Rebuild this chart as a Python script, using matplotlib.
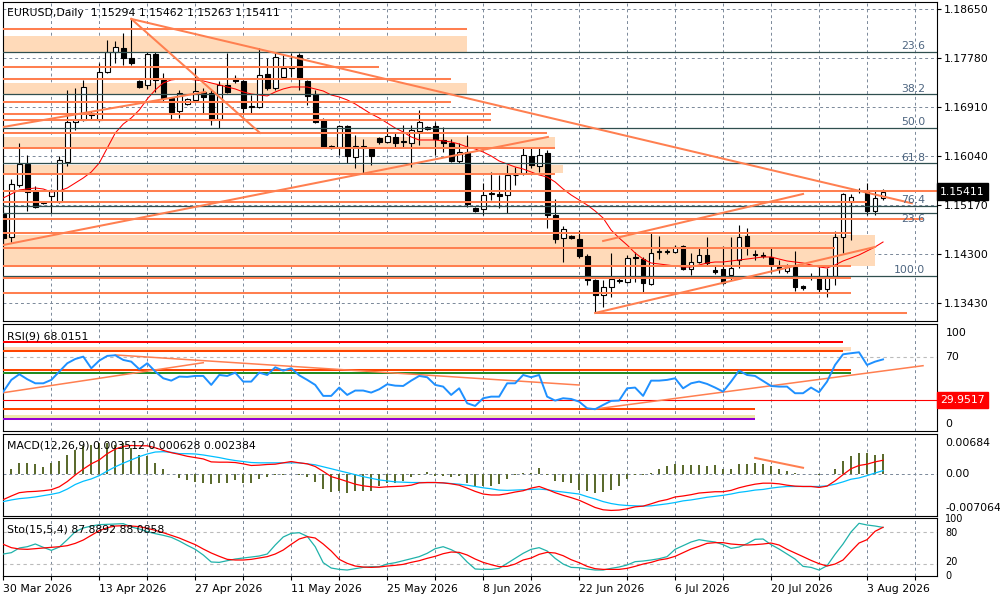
import numpy as np
import matplotlib
matplotlib.use('Agg')
import matplotlib.pyplot as plt
from matplotlib.transforms import blended_transform_factory

plt.rcParams['font.family'] = ['DejaVu Sans']
FS = 7.8

# ---- daily candles ----
opens = [
    1.15015, 1.14607, 1.15530, 1.15903, 1.15442, 1.15211, 1.15335, 1.15228, 1.15939, 1.16649,
    1.16685, 1.16809, 1.16685, 1.17537, 1.17892, 1.17963, 1.17785, 1.17377, 1.17306, 1.17856,
    1.17395, 1.17075, 1.16844, 1.16969, 1.17040, 1.17182, 1.17164, 1.16702, 1.17306, 1.17430,
    1.17377, 1.16915, 1.16915, 1.17501, 1.17253, 1.17448, 1.17608, 1.17838, 1.17377, 1.17146,
    1.16685, 1.16187, 1.16205, 1.16578, 1.16027, 1.16223, 1.16170, 1.16365, 1.16294, 1.16383,
    1.16294, 1.16276, 1.16489, 1.16525, 1.16578, 1.16329, 1.16276, 1.15956, 1.16116, 1.15122,
    1.15104, 1.15371, 1.15371, 1.15353, 1.15708, 1.15743, 1.16045, 1.15868, 1.16098, 1.14998,
    1.14589, 1.14625, 1.14571, 1.14270, 1.13844, 1.13577, 1.13719, 1.13826, 1.13808, 1.14234,
    1.14216, 1.13773, 1.14341, 1.14341, 1.14341, 1.14447, 1.14039, 1.14163, 1.14288, 1.14021,
    1.14039, 1.13932, 1.14199, 1.14625, 1.14305, 1.14288, 1.14252, 1.14074, 1.14003, 1.14074,
    1.13737, 1.13897, 1.13897, 1.13684, 1.13915, 1.14607, 1.15228, 1.15424, 1.15406, 1.15069,
    1.15294]
highs = [
    1.15086, 1.15637, 1.16276, 1.16063, 1.15513, 1.15246, 1.15459, 1.16045, 1.17217, 1.17253,
    1.17395, 1.16844, 1.17696, 1.18105, 1.18087, 1.18229, 1.18495, 1.17395, 1.17892, 1.17892,
    1.17519, 1.17093, 1.17217, 1.17075, 1.17608, 1.17253, 1.17217, 1.17377, 1.17874, 1.17483,
    1.17395, 1.17128, 1.17963, 1.17785, 1.17892, 1.17838, 1.17874, 1.17874, 1.17395, 1.17217,
    1.16720, 1.16241, 1.16596, 1.16596, 1.16418, 1.16347, 1.16187, 1.16383, 1.16542, 1.16454,
    1.16596, 1.16596, 1.16862, 1.16578, 1.16649, 1.16560, 1.16347, 1.16276, 1.16418, 1.15140,
    1.15566, 1.15761, 1.15708, 1.15885, 1.15850, 1.16205, 1.16205, 1.16205, 1.16152, 1.15282,
    1.14802, 1.14643, 1.14731, 1.14305, 1.13861, 1.13844, 1.14323, 1.13879, 1.14288, 1.14341,
    1.14252, 1.14678, 1.14625, 1.14394, 1.14465, 1.14465, 1.14323, 1.14412, 1.14607, 1.14092,
    1.14447, 1.14607, 1.14820, 1.14767, 1.14376, 1.14341, 1.14430, 1.14199, 1.14128, 1.14359,
    1.13755, 1.13968, 1.14074, 1.14057, 1.14714, 1.15389, 1.15371, 1.15477, 1.15566, 1.15442,
    1.15462]
lows = [
    1.14465, 1.14518, 1.15495, 1.15069, 1.15122, 1.15193, 1.15033, 1.15211, 1.15868, 1.16507,
    1.16667, 1.16685, 1.16667, 1.17519, 1.17696, 1.17661, 1.17661, 1.17253, 1.17235, 1.17182,
    1.17004, 1.16685, 1.16720, 1.16951, 1.17004, 1.16809, 1.16596, 1.16542, 1.17164, 1.17341,
    1.16809, 1.16809, 1.16897, 1.17217, 1.17217, 1.17430, 1.17448, 1.17217, 1.16951, 1.16631,
    1.16187, 1.16170, 1.16063, 1.15921, 1.15832, 1.15743, 1.15885, 1.16258, 1.16276, 1.16205,
    1.16205, 1.15850, 1.16241, 1.16507, 1.16063, 1.16116, 1.15939, 1.15921, 1.15140, 1.15051,
    1.14998, 1.15264, 1.15122, 1.15033, 1.15530, 1.15708, 1.15832, 1.15761, 1.14767, 1.14500,
    1.14163, 1.14571, 1.14234, 1.13755, 1.13258, 1.13364, 1.13542, 1.13790, 1.13790, 1.13808,
    1.13631, 1.13755, 1.14216, 1.14305, 1.14323, 1.14021, 1.13932, 1.14145, 1.14110, 1.13950,
    1.13773, 1.13844, 1.14057, 1.14288, 1.14199, 1.14234, 1.13968, 1.13968, 1.13968, 1.13648,
    1.13666, 1.13844, 1.13631, 1.13542, 1.13755, 1.14323, 1.14554, 1.15390, 1.14998, 1.14998,
    1.15263]
closes = [
    1.14589, 1.15548, 1.15903, 1.15406, 1.15140, 1.15228, 1.15442, 1.15974, 1.16649, 1.16685,
    1.17270, 1.16773, 1.17537, 1.17892, 1.17981, 1.17785, 1.17696, 1.17270, 1.17856, 1.17395,
    1.17075, 1.16826, 1.17164, 1.17058, 1.17199, 1.17093, 1.16685, 1.17306, 1.17182, 1.17377,
    1.16897, 1.16933, 1.17483, 1.17253, 1.17803, 1.17608, 1.17625, 1.17412, 1.17111, 1.16649,
    1.16205, 1.16223, 1.16578, 1.16045, 1.16223, 1.16187, 1.16045, 1.16294, 1.16400, 1.16276,
    1.16312, 1.16507, 1.16649, 1.16560, 1.16347, 1.16276, 1.15956, 1.16116, 1.15193, 1.15069,
    1.15353, 1.15389, 1.15335, 1.15708, 1.15715, 1.16063, 1.15885, 1.16063, 1.14998, 1.14571,
    1.14749, 1.14589, 1.14270, 1.13844, 1.13577, 1.13719, 1.13861, 1.13844, 1.14234, 1.14252,
    1.13790, 1.14323, 1.14359, 1.14359, 1.14430, 1.14039, 1.14163, 1.14288, 1.14145, 1.13986,
    1.13790, 1.14057, 1.14607, 1.14447, 1.14288, 1.14270, 1.14128, 1.14039, 1.14074, 1.13719,
    1.13702, 1.13890, 1.13684, 1.13915, 1.14607, 1.15371, 1.15317, 1.15430, 1.15069, 1.15299,
    1.15411]

ma_values = [
    1.15300, 1.15371, 1.15442, 1.15459, 1.15477, 1.15459, 1.15406, 1.15424, 1.15477, 1.15566,
    1.15655, 1.15761, 1.15921, 1.16187, 1.16454, 1.16613, 1.16720, 1.16862, 1.17058, 1.17217,
    1.17341, 1.17395, 1.17412, 1.17412, 1.17395, 1.17377, 1.17341, 1.17306, 1.17270, 1.17235,
    1.17182, 1.17146, 1.17128, 1.17111, 1.17182, 1.17235, 1.17270, 1.17270, 1.17270, 1.17235,
    1.17199, 1.17128, 1.17093, 1.17040, 1.16969, 1.16880, 1.16791, 1.16720, 1.16631, 1.16542,
    1.16471, 1.16383, 1.16329, 1.16329, 1.16329, 1.16312, 1.16294, 1.16258, 1.16205, 1.16170,
    1.16116, 1.16045, 1.15956, 1.15903, 1.15850, 1.15814, 1.15761, 1.15708, 1.15672, 1.15584,
    1.15459, 1.15353, 1.15264, 1.15175, 1.15069, 1.14944, 1.14731, 1.14589, 1.14465, 1.14323,
    1.14216, 1.14145, 1.14128, 1.14110, 1.14092, 1.14074, 1.14074, 1.14110, 1.14145, 1.14163,
    1.14163, 1.14181, 1.14199, 1.14216, 1.14234, 1.14252, 1.14252, 1.14216, 1.14181, 1.14163,
    1.14145, 1.14110, 1.14074, 1.14057, 1.14110, 1.14181, 1.14234, 1.14288, 1.14359, 1.14430,
    1.14518]

rsi_values = [
    37.8, 48.8, 54.1, 49.4, 45.6, 45.6, 48.8, 56.6, 64.4, 68.4,
    70.6, 59.7, 66.9, 71.3, 71.9, 67.5, 65.9, 58.8, 64.4, 56.6,
    50.3, 48.1, 51.9, 51.6, 52.5, 52.5, 44.1, 53.4, 52.5, 55.6,
    47.2, 47.2, 55.6, 53.4, 60.6, 57.5, 59.7, 53.1, 48.8, 44.1,
    33.8, 33.8, 41.6, 34.7, 38.8, 38.8, 36.9, 40.0, 44.7, 43.4,
    43.1, 48.1, 52.5, 51.3, 44.1, 42.5, 34.7, 40.9, 26.9, 24.4,
    31.6, 33.1, 33.1, 45.6, 45.6, 53.4, 51.3, 53.4, 33.1, 29.4,
    31.6, 30.9, 28.4, 22.2, 21.3, 25.3, 29.1, 29.4, 40.9, 41.6,
    33.8, 48.1, 48.1, 48.8, 50.3, 40.9, 45.6, 47.2, 45.0, 41.6,
    37.8, 47.2, 57.5, 53.4, 52.5, 47.8, 43.1, 42.5, 42.5, 36.3,
    36.3, 41.6, 37.2, 47.2, 62.8, 72.8, 73.8, 74.7, 62.8, 65.9,
    68.0151]

# MACD values in points (1e-5)
macd_hist = [
    56, 95, 184, 184, 167, 128, 195, 222, 334, 406,
    484, 500, 528, 528, 500, 528, 445, 334, 306, 195,
    83, 11, -56, -95, -128, -139, -167, -150, -139, -95,
    -139, -139, -83, -39, -11, -6, 11, -11, -39, -128,
    -250, -306, -278, -323, -278, -278, -278, -195, -139, -139,
    -111, -39, -11, 39, -28, -28, -39, -28, -139, -195,
    -206, -195, -167, -83, -11, 17, 28, 111, -3, -111,
    -128, -150, -261, -278, -323, -295, -261, -206, -83, -11,
    -11, 28, 95, 139, 178, 150, 150, 150, 139, 150,
    83, 95, 167, 178, 195, 167, 139, 95, 56, 28,
    11, 3, -11, 11, 83, 234, 317, 361, 361, 334,
    351.2]
macd_red = [
    -428, -367, -311, -295, -289, -278, -261, -211, -122, -11,
    89, 178, 245, 350, 428, 473, 489, 484, 484, 450,
    406, 367, 339, 306, 284, 261, 211, 206, 206, 200,
    178, 150, 156, 167, 172, 195, 217, 195, 178, 133,
    50, -39, -78, -122, -167, -195, -211, -222, -211, -206,
    -200, -184, -145, -139, -139, -145, -161, -184, -234, -289,
    -334, -350, -350, -328, -300, -278, -234, -206, -256, -311,
    -356, -395, -439, -500, -562, -601, -612, -606, -584, -551,
    -539, -500, -456, -428, -384, -367, -345, -317, -306, -295,
    -295, -272, -228, -195, -167, -150, -150, -161, -184, -200,
    -206, -206, -222, -200, -111, -6, 95, 150, 172, 211,
    238.4]
macd_blue = [
    -462, -434, -412, -400, -384, -361, -339, -311, -250, -172,
    -117, -78, -22, 56, 128, 189, 245, 300, 345, 378,
    384, 373, 350, 350, 345, 328, 306, 284, 256, 234,
    217, 200, 195, 195, 195, 195, 195, 195, 178, 161,
    128, 95, 61, 28, -6, -39, -67, -95, -111, -128,
    -133, -139, -139, -139, -139, -145, -156, -167, -184, -206,
    -228, -245, -267, -272, -267, -261, -256, -250, -261, -284,
    -300, -317, -334, -378, -417, -462, -495, -517, -528, -534,
    -539, -534, -517, -500, -478, -450, -434, -412, -389, -373,
    -356, -334, -306, -289, -267, -256, -234, -217, -206, -206,
    -206, -206, -206, -195, -167, -128, -83, -61, -22, 22,
    62.8]

sto_main = [
    38.5, 41.0, 49.7, 52.1, 57.1, 50.9, 45.3, 51.5, 65.1, 80.0,
    86.8, 90.5, 93.0, 93.6, 94.2, 94.9, 88.7, 85.0, 80.0, 76.3,
    73.2, 69.5, 62.7, 54.6, 47.2, 36.7, 23.7, 23.0, 26.1, 29.2,
    31.1, 32.9, 34.8, 38.5, 55.2, 70.1, 76.9, 78.1, 71.3, 52.1,
    22.4, 12.5, 10.0, 8.8, 11.3, 13.7, 15.0, 15.0, 19.9, 22.4,
    26.1, 29.8, 33.6, 39.8, 48.4, 52.1, 46.6, 39.1, 23.7, 10.7,
    10.0, 10.0, 11.9, 21.2, 30.5, 39.8, 47.2, 50.3, 44.1, 30.5,
    19.9, 13.7, 13.1, 10.7, 8.8, 8.8, 11.9, 14.4, 18.1, 24.3,
    25.5, 27.4, 29.8, 33.6, 47.2, 54.0, 60.8, 65.1, 62.7, 60.8,
    55.9, 49.0, 51.5, 57.7, 65.8, 66.4, 55.9, 47.8, 38.5, 29.2,
    15.6, 13.7, 8.8, 16.8, 37.9, 57.1, 79.4, 95.5, 92.4, 90.5,
    87.8892]
sto_signal = [
    56.5, 50.3, 47.8, 47.2, 48.4, 49.7, 50.9, 52.1, 54.0, 58.3,
    64.5, 73.2, 81.9, 87.4, 90.5, 91.1, 90.5, 89.3, 86.2, 82.5,
    78.1, 73.2, 68.2, 62.0, 55.9, 47.8, 40.4, 34.2, 28.6, 27.4,
    27.4, 28.6, 31.1, 33.6, 38.5, 45.9, 56.5, 66.4, 70.7, 68.2,
    57.1, 44.1, 28.6, 21.2, 16.2, 14.4, 13.7, 14.4, 16.2, 17.5,
    19.3, 23.0, 26.1, 30.5, 34.2, 39.1, 42.2, 41.6, 36.7, 29.2,
    23.0, 18.7, 15.0, 15.6, 19.9, 27.4, 31.1, 37.9, 41.6, 40.4,
    35.4, 28.0, 22.4, 15.6, 11.3, 10.0, 10.0, 10.0, 11.9, 15.6,
    19.9, 23.0, 27.4, 29.8, 34.2, 41.0, 47.8, 52.8, 58.3, 59.6,
    59.6, 57.1, 55.9, 55.2, 55.9, 57.1, 58.9, 55.2, 47.2, 40.4,
    33.6, 26.7, 20.6, 16.2, 19.9, 27.4, 43.5, 58.9, 65.1, 80.6,
    88.0858]

date_labels = ['30 Mar 2026', '13 Apr 2026', '27 Apr 2026', '11 May 2026', '25 May 2026',
               '8 Jun 2026', '22 Jun 2026', '6 Jul 2026', '20 Jul 2026', '3 Aug 2026']
date_bars = [0, 12, 24, 36, 48, 60, 72, 84, 96, 108]
price_ticks = [1.18650, 1.17780, 1.16910, 1.16040, 1.15170, 1.14300, 1.13430]

# drawn objects on the price window: (level, last bar)
main_hlines = [(1.18295, 58), (1.17631, 47), (1.17412, 56), (1.16999, 56), (1.16786, 61),
               (1.16684, 61), (1.16448, 68), (1.16182, 69), (1.15726, 69), (1.15429, 130),
               (1.15223, 108), (1.14927, 115), (1.14683, 106), (1.14417, 104), (1.14092, 106),
               (1.13874, 106), (1.13618, 106)]
support_line = (1.13252, 74, 113)
main_bands = [(1.17892, 1.18176, 58), (1.17146, 1.17341, 58), (1.16205, 1.16383, 69),
              (1.15743, 1.15885, 70), (1.14092, 1.14643, 109)]
fib_levels = [(1.17897, '23.6'), (1.17141, '38.2'), (1.16548, '50.0'), (1.15916, '61.8'),
              (1.15157, '76.4'), (1.15028, '23.6'), (1.13915, '100.0')]
main_trends = [(16, 1.18478, 113.6, 1.15206), (16, 1.18478, 32.1, 1.16454),
               (0, 1.14465, 68.1, 1.16383), (0, 1.16560, 25.25, 1.17182),
               (75, 1.14536, 100, 1.15371), (74, 1.13258, 109, 1.14430)]

# RSI window objects
rsi_hlines = [(84.6, 105, '#FF0000'), (76.2, 105, '#FF4500'), (58.1, 106, '#FF4500'),
              (55.0, 106, '#228B22'), (21.2, 94, '#FF4500'), (11.9, 94, '#9400D3')]
rsi_bands = [(75.9, 79.7, 106, '#FFDAB9'), (12.1, 15.9, 94, '#EEE8AA')]
rsi_trends = [(0, 36.8, 25, 64.9), (14, 72.2, 72, 44.0), (74, 21.5, 115, 62.1)]
rsi_mark = 29.9517
macd_trend = (94, 278, 100, 111)

CORAL = '#FF7F50'
GRID = '#7A8899'
x = np.arange(len(closes))
XMIN, XMAX = -0.04, 116.75

fig = plt.figure(figsize=(10, 6), dpi=100)
ax = fig.add_axes([0.003, 0.465, 0.934, 0.5317])
ax_rsi = fig.add_axes([0.003, 0.2817, 0.934, 0.1783])
ax_macd = fig.add_axes([0.003, 0.14, 0.934, 0.1367])
ax_sto = fig.add_axes([0.003, 0.04, 0.934, 0.0967])

for a in (ax, ax_rsi, ax_macd, ax_sto):
    a.set_xlim(XMIN, XMAX)
    for s in a.spines.values():
        s.set_linewidth(0.8)
        s.set_color('black')
    for b in range(6, 117, 6):
        a.axvline(b, color=GRID, lw=0.7, ls=(0, (3, 3)), zorder=0.5)
    a.tick_params(axis='x', bottom=False, labelbottom=False)
    a.yaxis.tick_right()
    a.tick_params(axis='y', length=3, width=0.8, pad=2, labelsize=FS)

# ---- price window ----
ax.set_ylim(1.131156, 1.18779)
for p in price_ticks:
    ax.axhline(p, color=GRID, lw=0.7, ls=(0, (3, 3)), zorder=0.5)
ax.set_yticks(price_ticks)
ax.set_yticklabels([f'{p:.5f}' for p in price_ticks])

for lo, hi, end in main_bands:
    ax.fill_between([-1, end], lo, hi, color='#FFDAB9', lw=0, zorder=1)

o = np.array(opens)
c = np.array(closes)
up = c >= o
body_lo = np.minimum(o, c)
body_h = np.abs(c - o)
ax.vlines(x, lows, highs, color='black', lw=0.8, zorder=3)
ax.bar(x[up], body_h[up], bottom=body_lo[up], width=0.6, facecolor='white',
       edgecolor='black', lw=0.8, zorder=4)
ax.bar(x[~up], body_h[~up], bottom=body_lo[~up], width=0.6, facecolor='black',
       edgecolor='black', lw=0.8, zorder=4)
ax.plot(x, ma_values, color='#FF0000', lw=0.75, zorder=5)

for i, (lvl, lab) in enumerate(fib_levels):
    ax.axhline(lvl, color='#2F4F4F', lw=0.9, zorder=5)
    # the second 23.6 sits right under 76.4, so its label goes below its line
    below = i == 5
    ax.text(115.25, lvl - 0.00010 if below else lvl + 0.00012, lab, ha='right',
            va='top' if below else 'bottom', fontsize=FS, color='#4d6580', zorder=7)
for lvl, end in main_hlines:
    ax.plot([-1, end], [lvl, lvl], color=CORAL, lw=1.45, solid_capstyle='butt', zorder=6)
lvl, b0, b1 = support_line
ax.plot([b0, b1], [lvl, lvl], color=CORAL, lw=1.45, solid_capstyle='butt', zorder=6)
for b0, p0, b1, p1 in main_trends:
    ax.plot([b0, b1], [p0, p1], color=CORAL, lw=1.45, zorder=6)

tr = blended_transform_factory(ax.transAxes, ax.transData)
ax.text(1.003, closes[-1], f'{closes[-1]:.5f}', transform=tr, ha='left', va='center',
        fontsize=FS, color='white', zorder=10, clip_on=False,
        bbox=dict(boxstyle='square,pad=0.3', fc='black', ec='black'))
fig.text(0.007, 1 - 13 / 600,
         f'EURUSD,Daily  {opens[-1]:.5f} {highs[-1]:.5f} {lows[-1]:.5f} {closes[-1]:.5f}',
         fontsize=FS, va='center', ha='left')

# ---- RSI window ----
ax_rsi.set_ylim(0.9, 101.2)
ax_rsi.set_yticks([])
ax_rsi.axhline(70, color='#BBBBBB', lw=0.8, ls=(0, (3, 3)), zorder=0.6)
for lo, hi, end, col in rsi_bands:
    ax_rsi.fill_between([-1, end], lo, hi, color=col, lw=0, zorder=1)
for lvl, end, col in rsi_hlines:
    ax_rsi.plot([-1, end], [lvl, lvl], color=col, lw=1.45, solid_capstyle='butt', zorder=3)
ax_rsi.axhline(rsi_mark, color='#FF0000', lw=0.8, zorder=3)
for b0, v0, b1, v1 in rsi_trends:
    ax_rsi.plot([b0, b1], [v0, v1], color=CORAL, lw=1.1, zorder=4)
ax_rsi.plot(x, rsi_values, color='#1E90FF', lw=1.4, zorder=5)
tr = blended_transform_factory(ax_rsi.transAxes, ax_rsi.transData)
ax_rsi.text(1.009, 70, '70', transform=tr, ha='left', va='center', fontsize=FS)
ax_rsi.text(1.003, rsi_mark, f'{rsi_mark:.4f}', transform=tr, ha='left', va='center',
            fontsize=FS, color='white', clip_on=False,
            bbox=dict(boxstyle='square,pad=0.3', fc='#FF0000', ec='#FF0000'))
ax_rsi.text(1.009, 0.915, '100', transform=ax_rsi.transAxes, ha='left', va='center', fontsize=FS)
ax_rsi.text(1.009, 0.065, '0', transform=ax_rsi.transAxes, ha='left', va='center', fontsize=FS)
fig.text(0.007, 1 - 336 / 600, f'RSI(9) {rsi_values[-1]:.4f}', fontsize=FS, va='center')

# ---- MACD window ----
ax_macd.set_ylim(-706.4, 684)
ax_macd.set_yticks([])
ax_macd.axhline(0, color=GRID, lw=0.7, ls=(0, (3, 3)), zorder=0.6)
ax_macd.bar(x, macd_hist, width=0.25, color='#5B6B2E', zorder=2)
ax_macd.plot(x, macd_blue, color='#00BFFF', lw=0.9, zorder=3)
ax_macd.plot(x, macd_red, color='#FF0000', lw=0.9, zorder=4)
b0, v0, b1, v1 = macd_trend
ax_macd.plot([b0, b1], [v0, v1], color=CORAL, lw=1.45, zorder=5)
tr = blended_transform_factory(ax_macd.transAxes, ax_macd.transData)
ax_macd.text(1.009, 0.89, '0.00684', transform=ax_macd.transAxes, ha='left', va='center', fontsize=FS)
ax_macd.text(1.009, 0, '0.00', transform=tr, ha='left', va='center', fontsize=FS)
ax_macd.text(1.009, 0.1, '-0.007064', transform=ax_macd.transAxes, ha='left', va='center', fontsize=FS)
fig.text(0.007, 1 - 446 / 600,
         f'MACD(12,26,9) {macd_hist[-1] / 1e5:.6f} {macd_blue[-1] / 1e5:.6f} {macd_red[-1] / 1e5:.6f}',
         fontsize=FS, va='center')

# ---- Stochastic window ----
ax_sto.set_ylim(-2.3, 105.4)
ax_sto.set_yticks([])
for lvl in (80, 20):
    ax_sto.axhline(lvl, color='#BBBBBB', lw=0.8, ls=(0, (3, 3)), zorder=0.6)
ax_sto.plot(x, sto_main, color='#20B2AA', lw=0.9, zorder=3)
ax_sto.plot(x, sto_signal, color='#FF0000', lw=0.9, zorder=4)
tr = blended_transform_factory(ax_sto.transAxes, ax_sto.transData)
ax_sto.text(1.009, 0.985, '100', transform=ax_sto.transAxes, ha='left', va='center', fontsize=7)
ax_sto.text(1.009, 77, '80', transform=tr, ha='left', va='center', fontsize=7)
ax_sto.text(1.009, 23, '20', transform=tr, ha='left', va='center', fontsize=7)
ax_sto.text(1.009, 0.0, '0', transform=ax_sto.transAxes, ha='left', va='center', fontsize=7)
fig.text(0.007, 1 - 529 / 600, f'Sto(15,5,4) {sto_main[-1]:.4f} {sto_signal[-1]:.4f}',
         fontsize=FS, va='center')

ax_sto.tick_params(axis='x', bottom=True, labelbottom=True, length=3, width=0.8,
                   pad=3, labelsize=FS)
ax_sto.set_xticks(date_bars)
ax_sto.set_xticklabels(date_labels, ha='left')
ax_sto.set_xticks(list(range(6, 117, 12)), minor=True)
ax_sto.tick_params(axis='x', which='minor', length=3, width=0.8)

fig.savefig('out.png', dpi=100)
